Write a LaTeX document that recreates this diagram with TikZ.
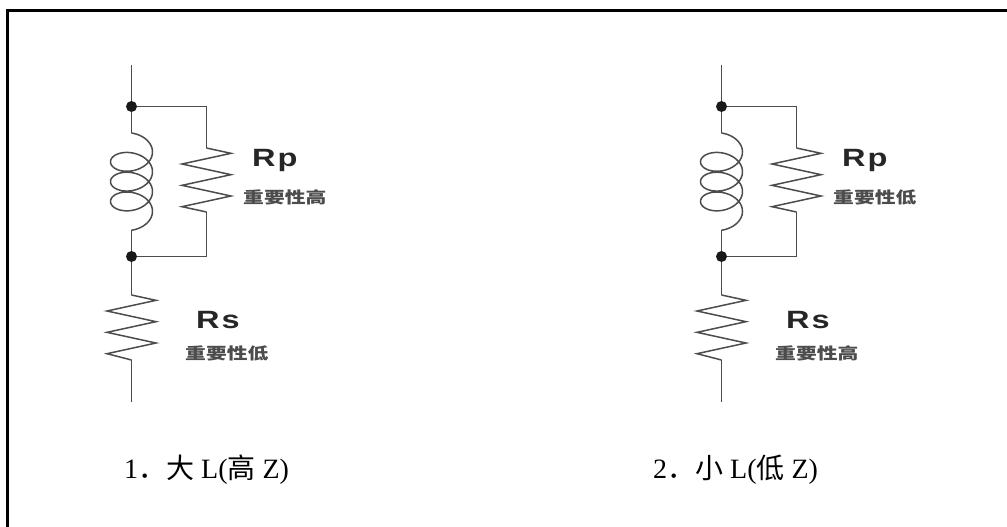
\documentclass[tikz,border=0pt]{standalone}
\usepackage{fontspec}
\setmainfont{Liberation Serif}
\setsansfont{Liberation Sans}
\newfontfamily\cjk{Noto Sans CJK SC}
\newfontfamily\cjkwide[FakeStretch=1.3]{Noto Sans CJK SC}
\newfontfamily\labwide[FakeStretch=1.3]{Liberation Sans}
\tikzset{
  wire/.style={draw=black!70, line width=1.5pt, line join=miter},
  junction/.style={fill=black!90},
  rlabel/.style={anchor=base west, inner sep=0pt, text=black!85, font=\labwide\bfseries\fontsize{25}{25}\selectfont},
  clabel/.style={anchor=west, inner sep=0pt, text=black!70, font=\cjkwide\bfseries\fontsize{16}{16}\selectfont},
  caption/.style={anchor=base west, inner sep=0pt, text=black, font=\fontsize{28}{28}\selectfont},
  frame/.style={draw=black, line width=2.2pt}
}
\newcommand\zigzag[2]{\draw[wire] (#1) -- ++(24.5,5.33) -- ++(-49,10.67) -- ++(49,10.67) -- ++(-49,10.67) -- ++(49,10.67) -- ++(-49,10.67) -- (#2);}
\newcommand\rlcircuit[4]{%
  \begin{scope}[xshift=#2]
    \coordinate (#1top) at (131.5,65);
    \coordinate (#1dA) at (131.5,106.5);
    \coordinate (#1tr) at (206.5,106.5);
    \coordinate (#1rpA) at (206.5,148);
    \coordinate (#1rpB) at (206.5,212);
    \coordinate (#1br) at (206.5,256.5);
    \coordinate (#1dB) at (131.5,256.5);
    \coordinate (#1lA) at (131.5,133);
    \coordinate (#1lB) at (131.5,230);
    \coordinate (#1rsA) at (131.5,295);
    \coordinate (#1rsB) at (131.5,360);
    \coordinate (#1bot) at (131.5,401.5);
    \draw[wire] (#1top) -- (#1dA) -- (#1lA);
    \draw[wire] (#1dA) -- (#1tr) -- (#1rpA);
    \zigzag{#1rpA}{#1rpB}
    \draw[wire] (#1rpB) -- (#1br) -- (#1dB);
    \draw[wire] plot[domain=0:7*pi, samples=240, smooth, variable=\t] ({131.5+21*sin(\t r)}, {147-14*cos(\t r)+3.15*\t});
    \draw[wire] (#1lB) -- (#1dB) -- (#1rsA);
    \zigzag{#1rsA}{#1rsB}
    \draw[wire] (#1rsB) -- (#1bot);
    \fill[junction] (#1dA) circle (5.5pt);
    \fill[junction] (#1dB) circle (5.5pt);
    \node[rlabel] (#1rp) at (252,166) {R\kern2pt p};
    \node[clabel] (#1rpt) at (243,197) {#3};
    \node[rlabel] (#1rs) at (196,328) {R\kern2pt s};
    \node[clabel] (#1rst) at (185,353) {#4};
  \end{scope}}
\begin{document}
\begin{tikzpicture}[x=1pt,y=-1pt]
\useasboundingbox (0,0) rectangle (1007,527);
\draw[frame] (7.5,527) -- (7.5,10.5) -- (1007,10.5);
\rlcircuit{a}{0pt}{重要性高}{重要性低}
\rlcircuit{b}{590pt}{重要性低}{重要性高}
\node[caption] (cap1) at (124,478) {1{\cjk ．}{\cjk 大} L({\cjk 高} Z)};
\node[caption] (cap2) at (653,478) {2{\cjk ．}{\cjk 小} L({\cjk 低} Z)};
\end{tikzpicture}
\end{document}
